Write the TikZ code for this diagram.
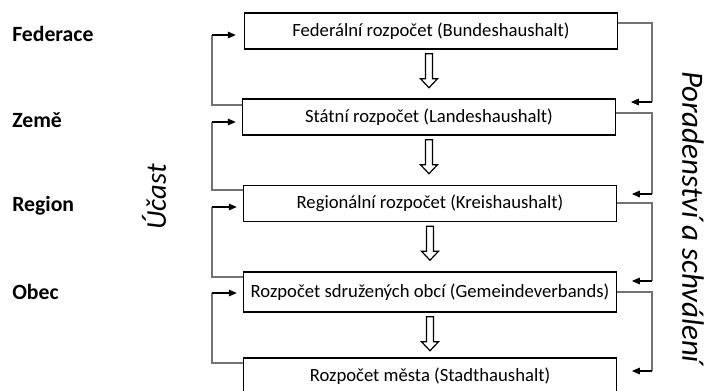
\documentclass[tikz,border=0pt]{standalone}
\usepackage{fontspec}
\setmainfont{Carlito}
\usetikzlibrary{arrows.meta,calc}
\begin{document}
\begin{tikzpicture}[x=0.75pt,y=-0.75pt,
  box/.style={draw=black,line width=1.1pt,minimum width=279.75pt,minimum height=27pt,inner sep=0pt,font=\fontsize{14}{16}\selectfont},
  lvl/.style={anchor=west,inner sep=0pt,font=\fontsize{16.3}{18}\selectfont\bfseries},
  side/.style={inner sep=0pt,font=\fontsize{21.5}{24}\selectfont\itshape},
  fbline/.style={draw=black!55,line width=0.8pt},
  fbarrow/.style={draw=black,line width=0.8pt,-{Triangle[length=6pt,width=5pt]}},
  harrow/.pic={\draw[line width=0.9pt,line join=miter] (-3.5,0) -- (3.5,0) -- (3.5,25) -- (8.5,25) -- (0,34) -- (-8.5,25) -- (-3.5,25) -- cycle;}
]
\useasboundingbox (0,0) rectangle (706,390);
\begin{scope}
\clip (0,0) rectangle (706,390);
% boxes
\node[box] (b1) at (431,31) {Federální rozpočet (Bundeshaushalt)};
\node[box] (b2) at (429,117) {Státní rozpočet (Landeshaushalt)};
\node[box] (b3) at (430,203.5) {Regionální rozpočet (Kreishaushalt)};
\node[box,minimum height=30pt] (b4) at (430,292) {Rozpočet sdružených obcí (Gemeindeverbands)};
\node[box] (b5) at (430,376) {Rozpočet města (Stadthaushalt)};
\end{scope}
% level labels
\node[lvl] (l1) at (12,34) {Federace};
\node[lvl] (l2) at (12,120) {Země};
\node[lvl] (l3) at (12,206) {Region};
\node[lvl] (l4) at (12,292) {Obec};
% side labels
\node[side,rotate=90] (ucast) at (154,197) {Účast};
\node[side,rotate=-90,font=\fontsize{23.2}{26}\selectfont\itshape] (porad) at (693,217) {Poradenství a schválení};
% hollow arrows
\pic at ($(b1.south)+(-2,4)$) {harrow};
\pic at ($(b2.south)+(0,4)$) {harrow};
\pic at ($(b3.south)+(0,4)$) {harrow};
\pic at ($(b4.south)+(0,4)$) {harrow};
% left feedback
\coordinate (la1) at (212,105); \coordinate (lb1) at (212,35);
\coordinate (la2) at (212,190); \coordinate (lb2) at (212,122);
\coordinate (la3) at (212,277); \coordinate (lb3) at (212,207);
\coordinate (la4) at (212,363); \coordinate (lb4) at (212,293);
\draw[fbline] (b2.west |- la1) -- (la1) -- (lb1);
\draw[fbline] (b3.west |- la2) -- (la2) -- (lb2);
\draw[fbline] (b4.west |- la3) -- (la3) -- (lb3);
\draw[fbline] (b5.west |- la4) -- (la4) -- (lb4);
\draw[fbarrow,shorten >=6pt] (lb1) -- (b1.west |- lb1);
\draw[fbarrow,shorten >=4.5pt] (lb2) -- (b2.west |- lb2);
\draw[fbarrow,shorten >=4.5pt] (lb3) -- (b3.west |- lb3);
\draw[fbarrow,shorten >=4.5pt] (lb4) -- (b4.west |- lb4);
% right feedback
\coordinate (ra1) at (652,23);  \coordinate (rb1) at (652,102);
\coordinate (ra2) at (652,113); \coordinate (rb2) at (652,194);
\coordinate (ra3) at (652,203); \coordinate (rb3) at (652,281);
\coordinate (ra4) at (652,292); \coordinate (rb4) at (652,371);
\draw[fbline] (b1.east |- ra1) -- (ra1) -- (rb1);
\draw[fbline] (b2.east |- ra2) -- (ra2) -- (rb2);
\draw[fbline] (b3.east |- ra3) -- (ra3) -- (rb3);
\draw[fbline] (b4.east |- ra4) -- (ra4) -- (rb4);
\draw[fbarrow,shorten >=11pt] (rb1) -- (b2.east |- rb1);
\draw[fbarrow,shorten >=11pt] (rb2) -- (b3.east |- rb2);
\draw[fbarrow,shorten >=11pt] (rb3) -- (b4.east |- rb3);
\draw[fbarrow,shorten >=11pt] (rb4) -- (b5.east |- rb4);
\end{tikzpicture}
\end{document}
